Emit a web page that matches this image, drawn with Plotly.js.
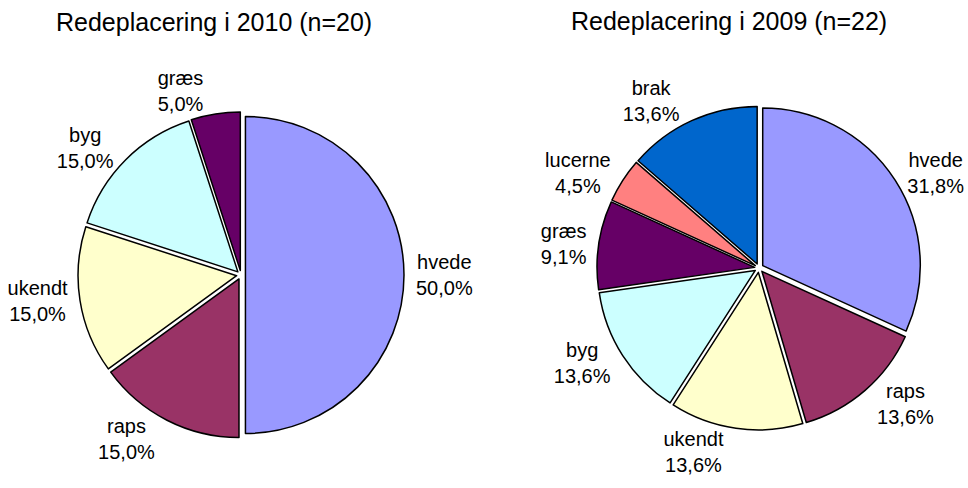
<!DOCTYPE html>
<html>
<head>
<meta charset="utf-8">
<script src="https://cdn.plot.ly/plotly-3.0.1.min.js"></script>
<style>html,body{margin:0;padding:0;background:#fff;}#chart{width:968px;height:488px;}</style>
</head>
<body>
<div id="chart"></div>
<script>
// 2010 (n=20)
const labels2010 = ['hvede', 'raps', 'ukendt', 'byg', 'græs'];
const counts2010 = [10, 3, 3, 3, 1];
const colors2010 = ['#9999FF', '#993366', '#FFFFCC', '#CCFFFF', '#660066'];
// 2009 (n=22)
const labels2009 = ['hvede', 'raps', 'ukendt', 'byg', 'græs', 'lucerne', 'brak'];
const counts2009 = [7, 3, 3, 3, 2, 1, 3];
const colors2009 = ['#9999FF', '#993366', '#FFFFCC', '#CCFFFF', '#660066', '#FF8080', '#0066CC'];

const title2010 = 'Redeplacering i 2010 (n=20)';
const title2009 = 'Redeplacering i 2009 (n=22)';

function pctText(labels, vals) {
  const s = vals.reduce((a, b) => a + b, 0);
  return labels.map((l, i) => l + '<br>' + (vals[i] / s * 100).toFixed(1).replace('.', ',') + '%');
}

const W = 968, H = 488;
// pixel box -> paper domain
function dom(x0, x1, y0, y1) { return {x: [x0 / W, x1 / W], y: [1 - y1 / H, 1 - y0 / H]}; }

const common = {
  type: 'pie',
  sort: false,
  direction: 'clockwise',
  rotation: 0,
  textinfo: 'text',
  textposition: 'outside',
  hoverinfo: 'none',
  outsidetextfont: {family: 'Liberation Sans, Arial, sans-serif', size: 20, color: '#000'},
  showlegend: false,
  pull: 0.028
};

const data = [
  Object.assign({}, common, {
    labels: labels2010, values: counts2010, text: pctText(labels2010, counts2010),
    marker: {colors: colors2010, line: {color: '#000', width: 1.5}},
    domain: dom(78, 404, 112, 438)
  }),
  Object.assign({}, common, {
    labels: labels2009, values: counts2009, text: pctText(labels2009, counts2009),
    marker: {colors: colors2009, line: {color: '#000', width: 1.5}},
    domain: dom(597, 921, 106, 430)
  })
];

const layout = {
  width: W, height: H,
  margin: {l: 0, r: 0, t: 0, b: 0},
  paper_bgcolor: '#fff',
  font: {family: 'Liberation Sans, Arial, sans-serif', size: 20, color: '#000'},
  annotations: [
    {text: title2010, x: 214 / W, y: 1 - 22 / H},
    {text: title2009, x: 729 / W, y: 1 - 21 / H}
  ].map(a => Object.assign(a, {xref: 'paper', yref: 'paper', showarrow: false,
    xanchor: 'center', yanchor: 'middle', font: {size: 25}}))
};

Plotly.newPlot('chart', data, layout, {displayModeBar: false, staticPlot: true});
</script>
</body>
</html>
